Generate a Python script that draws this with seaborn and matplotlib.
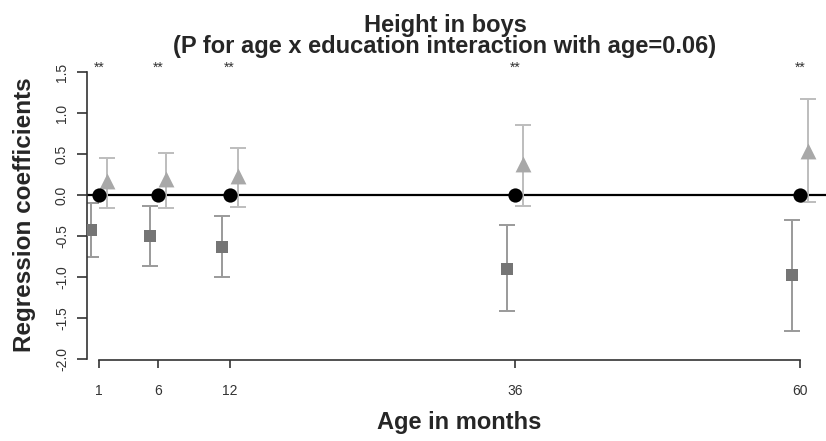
import numpy as np
import pandas as pd
import matplotlib
matplotlib.use("Agg")
import matplotlib.pyplot as plt
import seaborn as sns

# data
ages = [1, 6, 12, 36, 60]
ref_coef = [0.0, 0.0, 0.0, 0.0, 0.0]
tri_coef = [0.17, 0.19, 0.23, 0.38, 0.54]
tri_lo = [-0.16, -0.16, -0.15, -0.13, -0.09]
tri_hi = [0.45, 0.51, 0.57, 0.85, 1.17]
sq_coef = [-0.43, -0.50, -0.63, -0.90, -0.98]
sq_lo = [-0.76, -0.86, -1.00, -1.41, -1.66]
sq_hi = [-0.10, -0.14, -0.26, -0.37, -0.31]
stars = ["**", "**", "**", "**", "**"]
yticks = [-2.0, -1.5, -1.0, -0.5, 0.0, 0.5, 1.0, 1.5]

sns.set_style("ticks")
plt.rcParams['font.family'] = ['Liberation Sans', 'DejaVu Sans']

dodge = 0.68
ages_a = np.array(ages, dtype=float)
tri = pd.DataFrame({"x": ages_a + dodge, "y": tri_coef, "lo": tri_lo, "hi": tri_hi})
sq = pd.DataFrame({"x": ages_a - dodge, "y": sq_coef, "lo": sq_lo, "hi": sq_hi})
ref = pd.DataFrame({"x": ages_a, "y": ref_coef})

fig = plt.figure(figsize=(8.26, 4.41), dpi=100)
ax = fig.add_axes([87/826, 81/441, 739/826, 300/441])

ax.axhline(0, color="black", lw=1.6, zorder=1)

for d, ecol in [(sq, "#9a9a9a"), (tri, "#bdbdbd")]:
    ax.errorbar(d["x"], d["y"], yerr=[d["y"] - d["lo"], d["hi"] - d["y"]],
                fmt="none", ecolor=ecol, elinewidth=1.4, capsize=6, capthick=1.4, zorder=2)

sns.scatterplot(data=sq, x="x", y="y", marker="s", s=85, color="#757575",
                edgecolor="#757575", linewidth=0, ax=ax, zorder=3)
sns.scatterplot(data=tri, x="x", y="y", marker="^", s=130, color="#a8a8a8",
                edgecolor="#a8a8a8", linewidth=0, ax=ax, zorder=3)
sns.scatterplot(data=ref, x="x", y="y", marker="o", s=105, color="black",
                edgecolor="black", linewidth=0, ax=ax, zorder=4)

for a, s in zip(ages, stars):
    ax.text(a, 1.55, s, ha="center", va="center", fontsize=10, color="#333333", clip_on=False)

ax.set_xlim(-0.01, 62.2)
ax.set_ylim(-2.012, 1.646)
ax.set_xticks(ages)
ax.set_xticklabels([str(a) for a in ages])
ax.set_yticks(yticks)
ax.set_yticklabels(["%.1f" % v for v in yticks], rotation=90, va="center")
ax.set_xlabel("")
ax.set_ylabel("")

sns.despine(ax=ax)
ax.spines["left"].set_bounds(-2.0, 1.5)
ax.spines["bottom"].set_bounds(1, 60)
for sp in ["left", "bottom"]:
    ax.spines[sp].set_linewidth(1.2)
    ax.spines[sp].set_color("#333333")
ax.tick_params(axis="y", length=7, width=1.2, color="#333333", labelsize=10, pad=6, labelcolor="#333333")
ax.tick_params(axis="x", length=6, width=1.2, color="#333333", labelsize=10, pad=11, labelcolor="#333333")

fig.text(445/826, 1 - 36/441, "Height in boys\n(P for age x education interaction with age=0.06)",
         ha="center", va="center", fontsize=17, fontweight="bold", linespacing=0.92)
fig.text(25/826, 1 - 215/441, "Regression coefficients", rotation=90,
         ha="center", va="center", fontsize=17.5, fontweight="bold")
fig.text(459/826, 1 - 423/441, "Age in months", ha="center", va="center",
         fontsize=17, fontweight="bold")

fig.savefig("out.png", dpi=100)
